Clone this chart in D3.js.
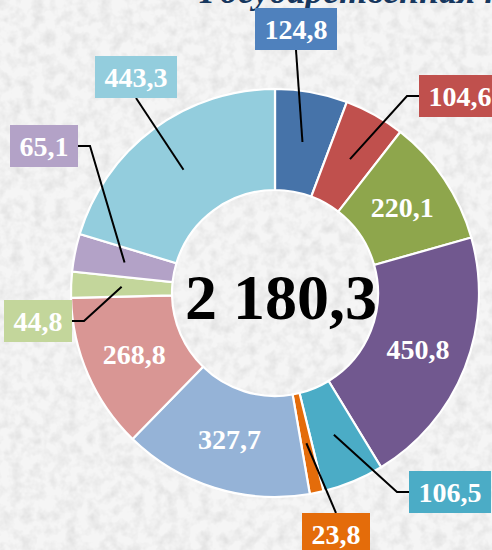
<!DOCTYPE html>
<html>
<head>
<meta charset="utf-8">
<script src="https://cdn.jsdelivr.net/npm/d3@7"></script>
<style>
  html, body { margin: 0; padding: 0; background: #f3f3f3; }
  svg { display: block; }
  text { font-family: "Liberation Serif", "Times New Roman", serif; font-weight: bold; }
</style>
</head>
<body>
<svg width="492" height="550"></svg>
<script>
// values of the slices, clockwise from 12 o'clock
var values = [124.8, 104.6, 220.1, 450.8, 106.5, 23.8, 327.7, 268.8, 44.8, 65.1, 443.3];
var labels = ["124,8", "104,6", "220,1", "450,8", "106,5", "23,8", "327,7", "268,8", "44,8", "65,1", "443,3"];
var colors = ["#4673a9", "#c0504d", "#8ea64c", "#71588f", "#4bacc6", "#e46c0a",
              "#95b3d7", "#d99694", "#c3d69b", "#b3a2c7", "#93cddd"];
var totalLabel = "2 180,3";
var titleText = "Государственная программа";

// label placement (layout only): null = label inside slice,
// otherwise box centre and optional elbow point of the leader line
var labelLayout = [
  {bx: 296, by: 29, elbow: null, side: "bottom"},
  {bx: 460, by: 96, elbow: [407, 96], side: "left"},
  null,
  null,
  {bx: 450, by: 492, elbow: [397, 492], side: "left"},
  {bx: 336, by: 534, elbow: null, side: "top"},
  null,
  null,
  {bx: 38, by: 321, elbow: [84, 321], side: "right"},
  {bx: 44, by: 146, elbow: [90, 146], side: "right"},
  {bx: 136, by: 77, elbow: null, side: "bottom"}
];

var svg = d3.select("svg"),
    width = 492,
    height = 550,
    cx = 275,
    cy = 293,
    outerR = 204,
    innerR = 103;

// paper-like background
var defs = svg.append("defs");
var filter = defs.append("filter").attr("id", "paper")
    .attr("x", 0).attr("y", 0).attr("width", "100%").attr("height", "100%");
filter.append("feTurbulence")
    .attr("type", "fractalNoise")
    .attr("baseFrequency", 0.09)
    .attr("numOctaves", 3)
    .attr("seed", 4);
filter.append("feColorMatrix")
    .attr("type", "matrix")
    .attr("values", "0 0 0 0 0.72  0 0 0 0 0.72  0 0 0 0 0.72  1.6 0 0 0 -0.62");

svg.append("rect").attr("width", width).attr("height", height).attr("fill", "#f5f5f5");
svg.append("rect").attr("width", width).attr("height", height).attr("filter", "url(#paper)");

// title, cut off at the top edge as in the source picture
svg.append("text")
    .attr("x", 200)
    .attr("y", 3)
    .attr("font-size", 36)
    .attr("font-style", "italic")
    .attr("fill", "#17375e")
    .text(titleText);

var pie = d3.pie().sort(null).value(function(d) { return d; });
var arcs = pie(values);

var arc = d3.arc().innerRadius(innerR).outerRadius(outerR);

var g = svg.append("g").attr("transform", "translate(" + cx + "," + cy + ")");

g.selectAll("path.slice")
    .data(arcs)
    .enter().append("path")
    .attr("class", "slice")
    .attr("d", arc)
    .attr("fill", function(d, i) { return colors[i]; })
    .attr("stroke", "#ffffff")
    .attr("stroke-width", 2.2);

// labels inside slices
g.selectAll("text.inner")
    .data(arcs.filter(function(d, i) { return !labelLayout[i]; }))
    .enter().append("text")
    .attr("class", "inner")
    .attr("x", function(d) { return arc.centroid(d)[0]; })
    .attr("y", function(d) { return arc.centroid(d)[1]; })
    .attr("dy", "0.35em")
    .attr("text-anchor", "middle")
    .attr("font-size", 28)
    .attr("fill", "#ffffff")
    .text(function(d) { return labels[d.index]; });

// outside labels with leader lines
var outer = svg.append("g");
arcs.forEach(function(d, i) {
  var lay = labelLayout[i];
  if (!lay) return;
  var c = arc.centroid(d);
  var start = [cx + c[0], cy + c[1]];

  var t = outer.append("text")
      .attr("x", lay.bx)
      .attr("y", lay.by)
      .attr("dy", "0.35em")
      .attr("text-anchor", "middle")
      .attr("font-size", 28)
      .attr("fill", "#ffffff")
      .text(labels[i]);
  var w = t.node().getComputedTextLength() + 19,
      h = 42;

  var end;
  if (lay.side === "left") end = [lay.bx - w / 2, lay.elbow[1]];
  else if (lay.side === "right") end = [lay.bx + w / 2, lay.elbow[1]];
  else if (lay.side === "bottom") end = [lay.bx, lay.by + h / 2];
  else end = [lay.bx, lay.by - h / 2];

  var pts = [start];
  if (lay.elbow) pts.push(lay.elbow);
  pts.push(end);

  outer.insert("path", "text")
      .attr("d", d3.line()(pts))
      .attr("fill", "none")
      .attr("stroke", "#000000")
      .attr("stroke-width", 2);

  outer.insert("rect", "text")
      .attr("x", lay.bx - w / 2)
      .attr("y", lay.by - h / 2)
      .attr("width", w)
      .attr("height", h)
      .attr("fill", i === 0 ? "#4f81bd" : colors[i]);
});

// total in the centre
svg.append("text")
    .attr("x", cx + 6)
    .attr("y", cy + 4)
    .attr("dy", "0.35em")
    .attr("text-anchor", "middle")
    .attr("font-size", 64)
    .attr("fill", "#000000")
    .text(totalLabel);
</script>
</body>
</html>
